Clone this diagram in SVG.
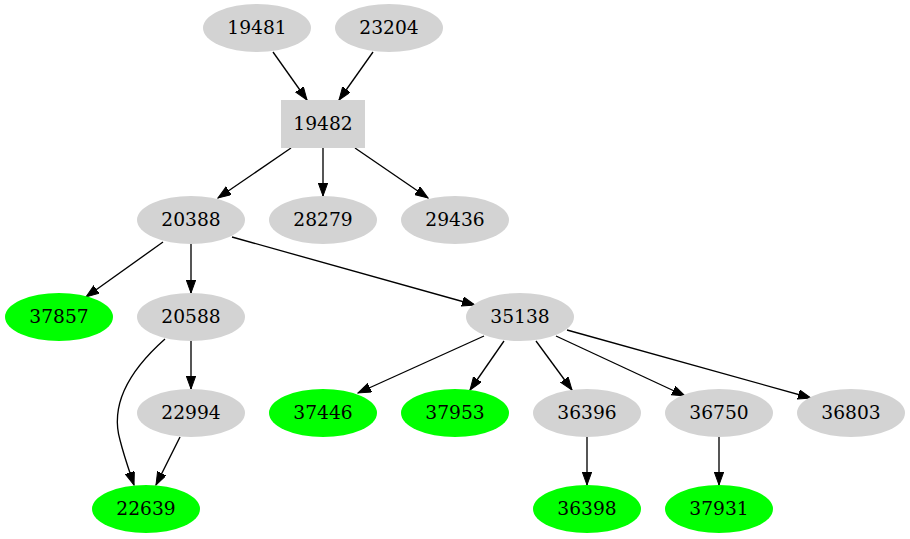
<svg xmlns="http://www.w3.org/2000/svg" width="910" height="539" viewBox="0 0 910 539">
<style>
.g{fill:#d3d3d3;stroke:none}
.v{fill:#00ff00;stroke:none}
text{font-family:"DejaVu Serif","Liberation Serif",serif;font-size:18.67px;fill:#000;text-anchor:middle}
.e{fill:none;stroke:#000;stroke-width:1.33;marker-end:url(#ah)}
</style>
<defs>
<marker id="ah" markerUnits="userSpaceOnUse" markerWidth="14" markerHeight="10" refX="13" refY="4.7" orient="auto">
<path d="M0,0 L13,4.7 L0,9.4 z" fill="#000" stroke="#000" stroke-width="1"/>
</marker>
</defs>
<rect width="910" height="539" fill="#fff"/>
<g id="edges">
<path class="e" d="M273,52 L307,100"/>
<path class="e" d="M373,52 L339,100"/>
<path class="e" d="M291,148 L218,198"/>
<path class="e" d="M323,148 L323,196"/>
<path class="e" d="M355,148 L428,198"/>
<path class="e" d="M163,242 L86,297"/>
<path class="e" d="M191,244 L191,293"/>
<path class="e" d="M232,237 L475,305"/>
<path class="e" d="M165,339 C130,370 110,405 120,440 C124,456 129,470 134,485"/>
<path class="e" d="M191,341 L191,389"/>
<path class="e" d="M180,437 L156,485"/>
<path class="e" d="M484,336 L358,393"/>
<path class="e" d="M504,341 L470,390"/>
<path class="e" d="M536,341 L572,390"/>
<path class="e" d="M556,336 L685,396"/>
<path class="e" d="M567,330 L811,398"/>
<path class="e" d="M587,437 L587,485"/>
<path class="e" d="M719,437 L719,485"/>
</g>
<g id="n19481"><ellipse class="g" cx="257" cy="28" rx="54" ry="24"/><text x="257" y="34">19481</text></g>
<g id="n23204"><ellipse class="g" cx="389" cy="28" rx="54" ry="24"/><text x="389" y="34">23204</text></g>
<g id="n19482"><rect class="g" x="281" y="100" width="84" height="48"/><text x="323" y="130">19482</text></g>
<g id="n20388"><ellipse class="g" cx="191" cy="220" rx="54" ry="24"/><text x="191" y="226">20388</text></g>
<g id="n28279"><ellipse class="g" cx="323" cy="220" rx="54" ry="24"/><text x="323" y="226">28279</text></g>
<g id="n29436"><ellipse class="g" cx="455" cy="220" rx="54" ry="24"/><text x="455" y="226">29436</text></g>
<g id="n37857"><ellipse class="v" cx="59" cy="317" rx="54" ry="24"/><text x="59" y="323">37857</text></g>
<g id="n20588"><ellipse class="g" cx="191" cy="317" rx="54" ry="24"/><text x="191" y="323">20588</text></g>
<g id="n35138"><ellipse class="g" cx="520" cy="317" rx="54" ry="24"/><text x="520" y="323">35138</text></g>
<g id="n22994"><ellipse class="g" cx="191" cy="413" rx="54" ry="24"/><text x="191" y="419">22994</text></g>
<g id="n37446"><ellipse class="v" cx="323" cy="413" rx="54" ry="24"/><text x="323" y="419">37446</text></g>
<g id="n37953"><ellipse class="v" cx="455" cy="413" rx="54" ry="24"/><text x="455" y="419">37953</text></g>
<g id="n36396"><ellipse class="g" cx="587" cy="413" rx="54" ry="24"/><text x="587" y="419">36396</text></g>
<g id="n36750"><ellipse class="g" cx="719" cy="413" rx="54" ry="24"/><text x="719" y="419">36750</text></g>
<g id="n36803"><ellipse class="g" cx="851" cy="413" rx="54" ry="24"/><text x="851" y="419">36803</text></g>
<g id="n22639"><ellipse class="v" cx="146" cy="509" rx="54" ry="24"/><text x="146" y="515">22639</text></g>
<g id="n36398"><ellipse class="v" cx="587" cy="509" rx="54" ry="24"/><text x="587" y="515">36398</text></g>
<g id="n37931"><ellipse class="v" cx="719" cy="509" rx="54" ry="24"/><text x="719" y="515">37931</text></g>
</svg>
